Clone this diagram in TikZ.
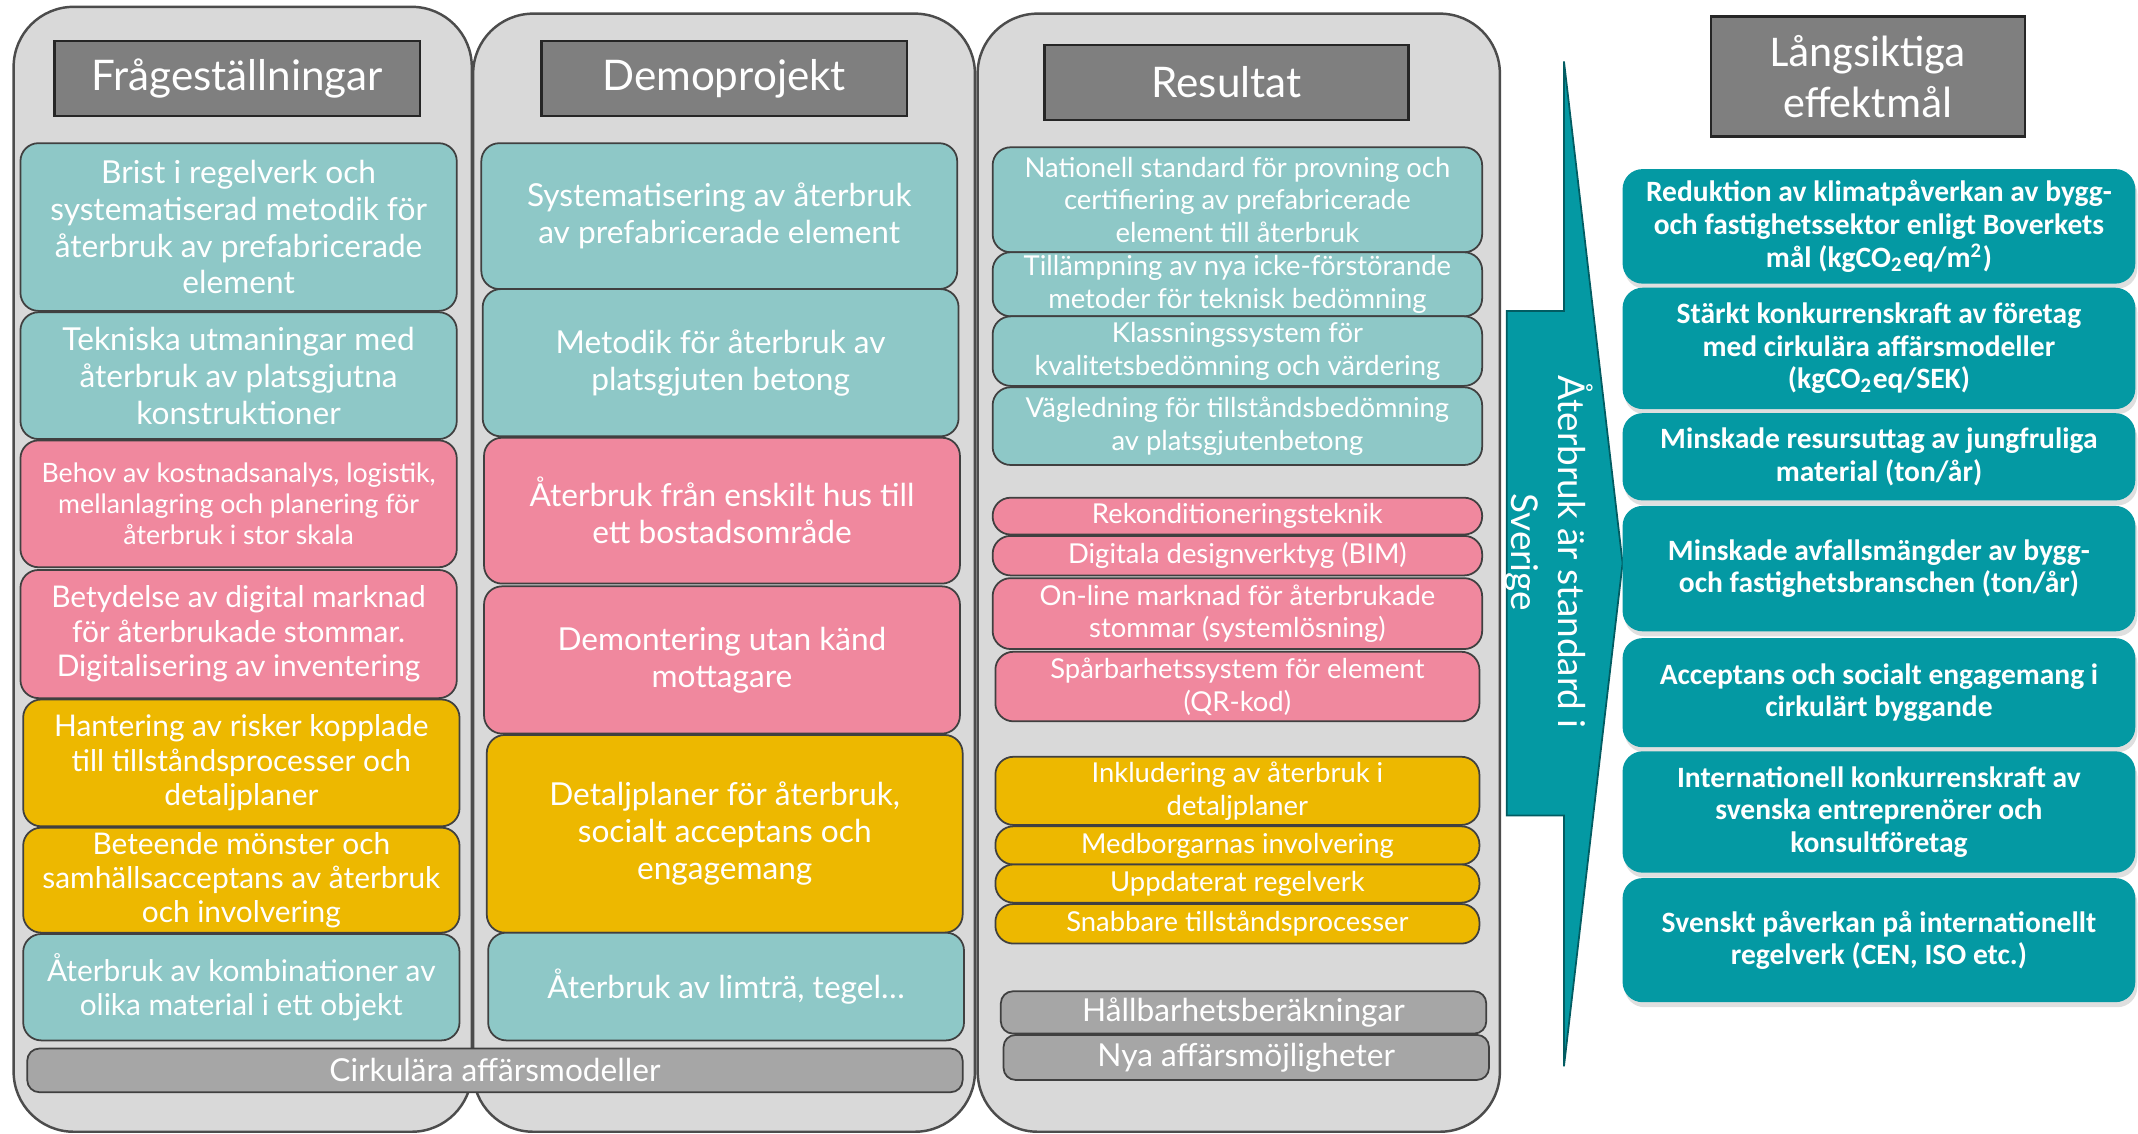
\documentclass[tikz,border=0pt]{standalone}
\usepackage{fontspec}
\setmainfont{Lato}
\newfontfamily\goalfont{Carlito}
\usetikzlibrary{shadows, positioning}
\definecolor{panelgrey}{HTML}{D9D9D9}
\definecolor{headgrey}{HTML}{7F7F7F}
\definecolor{tealbox}{HTML}{8EC8C7}
\definecolor{pinkbox}{HTML}{F0889E}
\definecolor{yellowbox}{HTML}{EDB800}
\definecolor{greybox}{HTML}{A6A6A6}
\definecolor{goalteal}{HTML}{0499A3}
\newcommand{\pxu}{0.13635mm}
\newcommand{\txtbig}{\fontsize{9}{10.5}\selectfont}
\newcommand{\txtmid}{\fontsize{8.5}{9.8}\selectfont}
\newcommand{\txtsmall}{\fontsize{7.6}{8.9}\selectfont}
\newcommand{\txtres}{\fontsize{7.8}{9.3}\selectfont}

\begin{document}
\begin{tikzpicture}[x=\pxu, y=-\pxu,
  sz/.style 2 args={minimum width=#1*\pxu, minimum height=#2*\pxu},
  panel/.style={draw=black!70, fill=panelgrey, line width=0.7pt, rounded corners=6mm, inner sep=0pt},
  head/.style={draw=black!85, fill=headgrey, text=white, line width=0.7pt, inner sep=0pt, align=center, font=\fontsize{12}{14}\selectfont},
  cell/.style={draw=black!75, line width=0.5pt, rounded corners=1.8mm, inner sep=0pt, text=white, align=center},
  tl/.style={cell, fill=tealbox},
  pk/.style={cell, fill=pinkbox},
  yl/.style={cell, fill=yellowbox},
  gr/.style={cell, fill=greybox, rounded corners=1.2mm, font=\txtbig},
  goal/.style={fill=goalteal, rounded corners=2mm, inner sep=0pt, text=white, align=center, sz={376}{#1}, font=\goalfont\bfseries\fontsize{8.4}{9.3}\selectfont, drop shadow={shadow xshift=0.2mm, shadow yshift=-0.5mm, opacity=0.25}}]
\fill[white] (0,0) rectangle (1568,831);
\useasboundingbox (0,0) rectangle (1568,831);

% the three grey columns
\node[panel, sz={336}{825}] (p1) at (178,417.5) {};
\node[panel, sz={368}{820}] (p2) at (531,420) {};
\node[panel, sz={383}{820}] (p3) at (908.5,420) {};

\node[head, sz={268}{55}] (h1) at (174,57.5) {Frågeställningar};
\node[head, sz={268}{55}] (h2) at (531,57.5) {Demoprojekt};
\node[head, sz={267}{55}] (h3) at (899.5,60.5) {Resultat};

% Frågeställningar
\node[tl, sz={320}{123}, font=\txtbig] (f1) at (175,166.5) {Brist i regelverk och\\systematiserad metodik för\\återbruk av prefabricerade\\element};
\node[tl, sz={320}{93}, font=\txtbig] (f2) at (175,275.5) {Tekniska utmaningar med\\återbruk av platsgjutna\\konstruktioner};
\node[pk, sz={320}{93}, font=\txtsmall] (f3) at (175,369.5) {Behov av kostnadsanalys, logistik,\\mellanlagring och planering för\\återbruk i stor skala};
\node[pk, sz={320}{94}, font=\txtmid] (f4) at (175,465) {Betydelse av digital marknad\\för återbrukade stommar.\\Digitalisering av inventering};
\node[yl, sz={320}{93}, font=\txtmid] (f5) at (177,559.5) {Hantering av risker kopplade\\till tillståndsprocesser och\\detaljplaner};
\node[yl, sz={320}{77}, font=\txtmid] (f6) at (177,645.5) {Beteende mönster och\\samhällsacceptans av återbruk\\och involvering};
\node[tl, sz={320}{78}, font=\txtmid] (f7) at (177,724) {Återbruk av kombinationer av\\olika material i ett objekt};

% Demoprojekt
\node[tl, sz={349}{107}, font=\txtbig] (d1) at (527.5,158.5) {Systematisering av återbruk\\av prefabricerade element};
\node[tl, sz={349}{108}, font=\txtbig] (d2) at (528.5,266) {Metodik för återbruk av\\platsgjuten betong};
\node[pk, sz={349}{107}, font=\txtbig] (d3) at (529.5,374.5) {Återbruk från enskilt hus till\\ett bostadsområde};
\node[pk, sz={349}{108}, font=\txtbig] (d4) at (529.5,484) {Demontering utan känd\\mottagare};
\node[yl, sz={349}{145}, font=\txtbig] (d5) at (531.5,611.5) {Detaljplaner för återbruk,\\socialt acceptans och\\engagemang};
\node[tl, sz={349}{79}, font=\txtbig] (d6) at (532.5,723.5) {Återbruk av limträ, tegel…};

\node[gr, sz={686}{32}] (cb) at (363,785) {Cirkulära affärsmodeller};

% Resultat
\node[tl, sz={359}{77}, font=\txtres] (r1) at (907.5,146.5) {Nationell standard för provning och\\certifiering av prefabricerade\\element till återbruk};
\node[tl, sz={359}{47}, font=\txtres] (r2) at (907.5,208.5) {Tillämpning av nya icke-förstörande\\metoder för teknisk bedömning};
\node[tl, sz={359}{51}, font=\txtres] (r3) at (907.5,257.5) {Klassningssystem för\\kvalitetsbedömning och värdering};
\node[tl, sz={359}{57}, font=\txtres] (r4) at (907.5,312.5) {Vägledning för tillståndsbedömning\\av platsgjutenbetong};
\node[pk, sz={359}{27}, font=\txtres] (r5) at (907.5,378.5) {Rekonditioneringsteknik};
\node[pk, sz={359}{29}, font=\txtres] (r6) at (907.5,407.5) {Digitala designverktyg (BIM)};
\node[pk, sz={359}{52}, font=\txtres] (r7) at (907.5,450) {On-line marknad för återbrukade\\stommar (systemlösning)};
\node[pk, sz={355}{51}, font=\txtres] (r8) at (907.5,503.5) {Spårbarhetssystem för element\\(QR-kod)};
\node[yl, sz={355}{50}, font=\txtres] (r9) at (907.5,580) {Inkludering av återbruk i\\detaljplaner};
\node[yl, sz={355}{28}, font=\txtres] (r10) at (907.5,620) {Medborgarnas involvering};
\node[yl, sz={355}{28}, font=\txtres] (r11) at (907.5,648) {Uppdaterat regelverk};
\node[yl, sz={355}{29}, font=\txtres] (r12) at (907.5,677.5) {Snabbare tillståndsprocesser};
\node[gr, sz={356}{31}] (g1) at (912,742.5) {Hållbarhetsberäkningar};
\node[gr, sz={356}{33}] (g2) at (914,775.5) {Nya affärsmöjligheter};

% arrow towards the long-term goals
\filldraw[fill=goalteal, draw=goalteal!60!black, line width=0.5pt]
  (1105,228) -- (1147,228) -- (1147,45) -- (1190,413) -- (1147,782) -- (1147,598) -- (1105,598) -- cycle;
\node[text=white, rotate=-90, align=center, font=\fontsize{10.5}{13.2}\selectfont] (arr) at (1136,405) {Återbruk är standard i\\Sverige};

% Långsiktiga effektmål
\node[head, sz={230}{88}, font=\goalfont\fontsize{12.5}{14.5}\selectfont] (h4) at (1370,56) {Långsiktiga\\effektmål};
\node[goal=84] (e1) at (1378,166) {Reduktion av klimatpåverkan av bygg-\\och fastighetssektor enligt Boverkets\\mål (kgCO\textsubscript{2}eq/m\textsuperscript{2})};
\node[goal=89] (e2) at (1378,255.5) {Stärkt konkurrenskraft av företag\\med cirkulära affärsmodeller\\(kgCO\textsubscript{2}eq/SEK)};
\node[goal=64] (e3) at (1378,335) {Minskade resursuttag av jungfruliga\\material (ton/år)};
\node[goal=92] (e4) at (1378,417) {Minskade avfallsmängder av bygg-\\och fastighetsbranschen (ton/år)};
\node[goal=80] (e5) at (1378,508) {Acceptans och socialt engagemang i\\cirkulärt byggande};
\node[goal=89] (e6) at (1378,595.5) {Internationell konkurrenskraft av\\svenska entreprenörer och\\konsultföretag};
\node[goal=91] (e7) at (1378,689.5) {Svenskt påverkan på internationellt\\regelverk (CEN, ISO etc.)};
\end{tikzpicture}
\end{document}
